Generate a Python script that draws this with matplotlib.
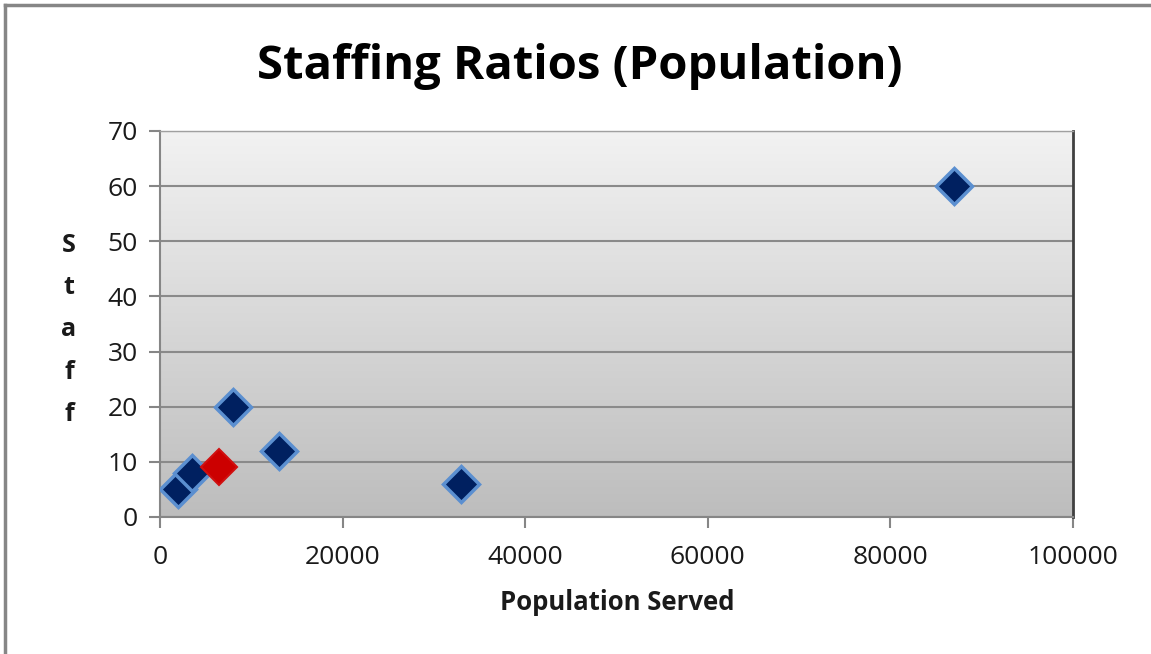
import matplotlib.pyplot as plt
import numpy as np

# data
population = [2000, 3500, 8000, 13000, 33000, 87000]
staff = [5, 8, 20, 12, 6, 60]
highlight_population = [6500]
highlight_staff = [9]

x_ticks = [0, 20000, 40000, 60000, 80000, 100000]
y_ticks = [0, 10, 20, 30, 40, 50, 60, 70]

plt.rcParams['font.family'] = ['Open Sans', 'DejaVu Sans']

fig = plt.figure(figsize=(11.51, 6.54), dpi=100)
ax = fig.add_axes([160 / 1151, 1 - 517 / 654, 913 / 1151, 386 / 654])

# outer chart border (only left/top visible in the crop)
fig.add_artist(plt.Line2D([5 / 1151, 5 / 1151], [0, 1 - 5 / 654], color='#868686', lw=2.5))
fig.add_artist(plt.Line2D([5 / 1151, 1], [1 - 5 / 654, 1 - 5 / 654], color='#868686', lw=2.5))

# gradient plot area
grad = np.linspace(0, 1, 256).reshape(-1, 1)
ax.imshow(grad, extent=[0, 1, 0, 1], transform=ax.transAxes, aspect='auto',
          cmap=plt.matplotlib.colors.LinearSegmentedColormap.from_list('g', ['#f2f2f2', '#bdbdbd']),
          zorder=0)

ax.set_xlim(0, 100000)
ax.set_ylim(0, 70)
ax.set_xticks(x_ticks)
ax.set_yticks(y_ticks)
ax.grid(axis='y', color='#8a8a8a', lw=1.5, zorder=1)
ax.set_axisbelow(True)

ax.plot(population, staff, 'D', ms=18, mfc='#002060', mec='#5b8fd0', mew=2.5, zorder=3)
ax.plot(highlight_population, highlight_staff, 'D', ms=18, mfc='#cc0000', mec='#d01010', mew=1.5, zorder=3)

for s in ['left', 'bottom']:
    ax.spines[s].set_color('#868686')
    ax.spines[s].set_linewidth(1.5)
ax.spines['right'].set_color('#404040')
ax.spines['right'].set_linewidth(2)
ax.spines['top'].set_color('#a0a0a0')
ax.spines['top'].set_linewidth(1)

ax.tick_params(axis='both', colors='#868686', labelcolor='#1a1a1a', labelsize=19,
               length=8, width=1.5)
ax.tick_params(axis='x', pad=12)
ax.tick_params(axis='y', pad=8)

fig.text(580 / 1151, 1 - 66 / 654, 'Staffing Ratios (Population)', ha='center', va='center',
         fontsize=34, fontweight='bold', color='#000000')
fig.text(617 / 1151, 1 - 603 / 654, 'Population Served', ha='center', va='center',
         fontsize=18.5, fontweight='bold', color='#1a1a1a')
fig.text(69 / 1151, 1 - 330 / 654, 'S\nt\na\nf\nf', ha='center', va='center',
         fontsize=18, fontweight='bold', color='#1a1a1a', linespacing=1.9)

fig.savefig('out.png', dpi=100)
